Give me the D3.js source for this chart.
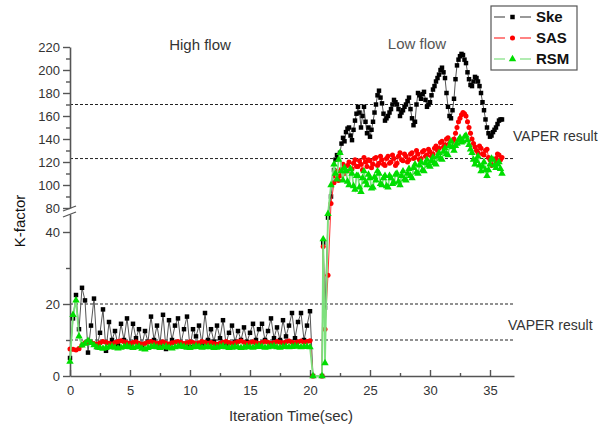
<!DOCTYPE html>
<html>
<head>
<meta charset="utf-8">
<script src="https://cdn.jsdelivr.net/npm/d3@7"></script>
<style>
  body { margin: 0; background: #fff; }
  svg { display: block; font-family: "Liberation Sans", Arial, sans-serif; }
</style>
</head>
<body>
<svg id="chart" width="603" height="427"></svg>
<script>
// iteration time (sec) of every sample
var times = [
  0, 0.25, 0.5, 0.75, 1, 1.25, 1.5, 1.75,
  2, 2.25, 2.5, 2.75, 3, 3.25, 3.5, 3.75,
  4, 4.25, 4.5, 4.75, 5, 5.25, 5.5, 5.75,
  6, 6.25, 6.5, 6.75, 7, 7.25, 7.5, 7.75,
  8, 8.25, 8.5, 8.75, 9, 9.25, 9.5, 9.75,
  10, 10.25, 10.5, 10.75, 11, 11.25, 11.5, 11.75,
  12, 12.25, 12.5, 12.75, 13, 13.25, 13.5, 13.75,
  14, 14.25, 14.5, 14.75, 15, 15.25, 15.5, 15.75,
  16, 16.25, 16.5, 16.75, 17, 17.25, 17.5, 17.75,
  18, 18.25, 18.5, 18.75, 19, 19.25, 19.5, 19.75,
  20,
  20.25, 21, 21.1, 21.25, 21.5, 21.75,
  22, 22.125, 22.25, 22.375, 22.5, 22.625, 22.75, 22.875,
  23, 23.125, 23.25, 23.375, 23.5, 23.625, 23.75, 23.875,
  24, 24.125, 24.25, 24.375, 24.5, 24.625, 24.75, 24.875,
  25, 25.125, 25.25, 25.375, 25.5, 25.625, 25.75, 25.875,
  26, 26.125, 26.25, 26.375, 26.5, 26.625, 26.75, 26.875,
  27, 27.125, 27.25, 27.375, 27.5, 27.625, 27.75, 27.875,
  28, 28.125, 28.25, 28.375, 28.5, 28.625, 28.75, 28.875,
  29, 29.125, 29.25, 29.375, 29.5, 29.625, 29.75, 29.875,
  30, 30.125, 30.25, 30.375, 30.5, 30.625, 30.75, 30.875,
  31, 31.125, 31.25, 31.375, 31.5, 31.625, 31.75, 31.875,
  32, 32.125, 32.25, 32.375, 32.5, 32.625, 32.75, 32.875,
  33, 33.125, 33.25, 33.375, 33.5, 33.625, 33.75, 33.875,
  34, 34.125, 34.25, 34.375, 34.5, 34.625, 34.75, 34.875,
  35, 35.125, 35.25, 35.375, 35.5, 35.625, 35.75, 35.875,
  36
];

var ske = [
  5, 16, 22.5, 13, 24.5, 21, 6.5, 14,
  21.5, 8, 12, 18.5, 7, 15, 10, 12.5,
  8.5, 14.5, 10, 16, 9, 14.5, 10.5, 13,
  8.5, 12.5, 9.5, 16.5, 10, 14, 9, 17,
  7.5, 15.5, 10, 14, 16, 9, 13, 16.5,
  8, 13, 11, 14, 9, 17.5, 10, 13,
  9.5, 14, 10.5, 15.5, 9, 12, 14, 9.5,
  12.5, 10, 13.5, 9.5, 12, 14.5, 10, 13,
  14.5, 10, 12.5, 16, 10.5, 13.5, 10, 15.5,
  11, 14, 17.5, 10.5, 15, 17.5, 10, 14,
  18,
  0, 0, 37, 19, 44, 90,
  113, 122, 126, 124, 128, 136, 141, 138,
  146, 149, 150, 143, 139, 148, 156, 162,
  168, 163, 150, 160, 168, 155, 145, 150,
  142, 148, 155, 163, 170, 178, 182, 176,
  171, 162, 156, 158, 160, 163, 166, 170,
  174, 172, 170, 166, 160, 163, 165, 168,
  170, 173, 176, 166, 158, 152, 155, 170,
  180, 178, 175, 179, 181, 174, 168, 170,
  172, 178, 183, 186, 190, 193, 196, 200,
  202, 198, 193, 180, 168, 160, 158, 165,
  175, 192, 204, 209, 212, 214, 213, 209,
  206, 198, 192, 187, 186, 190, 194, 193,
  190, 186, 180, 172, 165, 157, 150, 145,
  142, 143, 146, 148, 150, 153, 156, 157,
  157
];

var sas = [
  7.5, 7.4, 7.2, 7.6, 8.6, 9.2, 9.5, 9.3,
  9.0, 8.8, 9.2, 9.6, 9.4, 9.1, 8.9, 9.3,
  9.6, 9.8, 9.5, 9.2, 9.0, 9.3, 9.5, 9.1,
  8.8, 9.0, 9.4, 9.6, 9.3, 9.0, 9.2, 9.5,
  9.1, 8.9, 9.2, 9.4, 9.6, 9.3, 9.0, 9.2,
  9.5, 9.3, 9.0, 9.2, 9.6, 9.4, 9.1, 9.3,
  9.0, 8.8, 9.1, 9.4, 9.6, 9.3, 9.0, 9.2,
  9.5, 9.7, 9.4, 9.1, 9.3, 9.5, 9.2, 9.0,
  9.3, 9.6, 9.4, 9.1, 9.3, 9.6, 9.4, 9.2,
  9.5, 9.7, 9.4, 9.2, 9.5, 9.7, 9.4, 9.6,
  9.8,
  0, 0, 36, 13, 28, 84,
  102, 108, 112, 104, 108, 114, 118, 110,
  112, 117, 120, 112, 114, 119, 122, 116,
  116, 121, 118, 113, 124, 120, 116, 122,
  121, 115, 118, 123, 124, 117, 119, 125,
  122, 118, 117, 123, 125, 119, 120, 126,
  123, 117, 119, 125, 128, 122, 121, 127,
  125, 120, 122, 127, 128, 123, 124, 130,
  127, 122, 123, 129, 130, 125, 126, 131,
  129, 125, 127, 132, 134, 130, 132, 137,
  138, 133, 135, 140, 141, 136, 136, 138,
  140, 145, 150, 155, 158, 161, 163, 162,
  160, 155, 150, 145, 140, 136, 133, 130,
  128, 134, 132, 127, 126, 130, 131, 124,
  122, 117, 118, 121, 123, 127, 126, 122,
  124
];

var rsm = [
  4, 17, 21, 11, 8.5, 9, 9.8, 9.2,
  8.6, 8.0, 7.8, 7.6, 7.8, 8.0, 8.2, 7.9,
  7.7, 7.9, 8.1, 8.3, 8.0, 7.8, 8.0, 8.2,
  7.6, 7.4, 7.8, 8.1, 8.3, 8.0, 7.8, 8.0,
  8.2, 7.9, 7.7, 8.0, 8.2, 8.4, 8.1, 7.9,
  7.8, 8.0, 8.3, 8.1, 7.9, 8.0, 8.2, 8.0,
  7.8, 7.9, 8.1, 8.3, 8.0, 7.8, 7.9, 8.1,
  8.0, 7.8, 7.9, 8.2, 8.0, 7.9, 8.1, 8.3,
  8.1, 7.9, 8.0, 8.2, 8.3, 8.0, 7.9, 8.1,
  8.2, 8.0, 8.1, 8.3, 8.2, 8.0, 8.1, 8.2,
  8.0,
  0, 0, 38, 3.6, 46, 100,
  118, 110, 105, 122, 128, 112, 104, 115,
  112, 103, 100, 114, 110, 99, 96, 108,
  108, 98, 94, 106, 112, 103, 100, 109,
  106, 97, 98, 107, 104, 112, 110, 101,
  100, 106, 108, 99, 98, 108, 106, 101,
  102, 109, 110, 103, 100, 108, 112, 105,
  104, 110, 114, 108, 106, 115, 118, 111,
  110, 117, 120, 113, 112, 119, 122, 117,
  116, 121, 124, 119, 118, 125, 128, 123,
  122, 129, 132, 127, 126, 134, 138, 133,
  130, 134, 136, 139, 141, 137, 138, 142,
  143, 139, 135, 131, 128, 122, 118, 121,
  125, 117, 112, 116, 120, 113, 108, 113,
  118, 123, 122, 117, 115, 118, 120, 114,
  110
];

var seriesNames = ["Ske", "SAS", "RSM"];
var xTicks = [0, 5, 10, 15, 20, 25, 30, 35];
var upperTicks = [80, 100, 120, 140, 160, 180, 200, 220];
var lowerTicks = [0, 20, 40];
var vaperLines = [10, 20, 123, 170];

var svg = d3.select("#chart");

// x: 0..37 sec
var x = d3.scaleLinear().domain([0, 37]).range([70, 514]);
// broken y axis: lower part 0..45, upper part 80..220
var yLow = d3.scaleLinear().domain([0, 45]).range([376, 214]);
var yUp = d3.scaleLinear().domain([80, 220]).range([208, 47]);
var y = d3.scaleLinear().domain([0, 45, 80, 220]).range([376, 214, 208, 47]);

var styles = {
  Ske: { line: "#555", lw: 1, fill: "#000", symbol: d3.symbolSquare, size: 20 },
  SAS: { line: "#ff3030", lw: 1, fill: "#ff0000", symbol: d3.symbolCircle, size: 20 },
  RSM: { line: "#7de07d", lw: 1.8, fill: "#00dd00", symbol: d3.symbolTriangle, size: 24 }
};
var values = { Ske: ske, SAS: sas, RSM: rsm };

// dashed VAPER reference lines
svg.append("g").selectAll("line")
  .data(vaperLines)
  .enter().append("line")
    .attr("x1", x(0)).attr("x2", x(37))
    .attr("y1", function(d){ return y(d); })
    .attr("y2", function(d){ return y(d); })
    .attr("stroke", "#222")
    .attr("stroke-width", 1)
    .attr("stroke-dasharray", "3,2");

// axes
function styleAxis(g) {
  g.select(".domain").attr("stroke", "#555").attr("stroke-width", 1.6);
  g.selectAll(".tick line").attr("stroke", "#555").attr("stroke-width", 1.4);
  g.selectAll(".tick text").attr("fill", "#333").style("font-size", "13px");
}

svg.append("g")
    .attr("transform", "translate(0," + y(0) + ")")
    .call(d3.axisBottom(x).tickValues(xTicks).tickSize(-6).tickSizeOuter(0).tickPadding(10))
    .call(styleAxis);
svg.append("g")
    .attr("transform", "translate(0," + y(0) + ")")
    .call(d3.axisBottom(x).tickValues([2.5, 7.5, 12.5, 17.5, 22.5, 27.5, 32.5]).tickSize(-3).tickFormat(""))
    .call(styleAxis)
    .select(".domain").remove();

svg.append("g")
    .attr("transform", "translate(" + x(0) + ",0)")
    .call(d3.axisLeft(yUp).tickValues(upperTicks).tickSize(7).tickSizeOuter(0).tickPadding(3))
    .call(styleAxis);
svg.append("g")
    .attr("transform", "translate(" + x(0) + ",0)")
    .call(d3.axisLeft(yUp).tickValues([90, 110, 130, 150, 170, 190, 210]).tickSize(4).tickFormat(""))
    .call(styleAxis)
    .select(".domain").remove();
svg.append("g")
    .attr("transform", "translate(" + x(0) + ",0)")
    .call(d3.axisLeft(yLow).tickValues(lowerTicks).tickSize(7).tickSizeOuter(0).tickPadding(3))
    .call(styleAxis);
svg.append("g")
    .attr("transform", "translate(" + x(0) + ",0)")
    .call(d3.axisLeft(yLow).tickValues([10, 30]).tickSize(4).tickFormat(""))
    .call(styleAxis)
    .select(".domain").remove();

// axis break marks
[y(80), y(45)].forEach(function(py){
  svg.append("line")
    .attr("x1", x(0) - 7).attr("y1", py + 3)
    .attr("x2", x(0) + 6).attr("y2", py - 2)
    .attr("stroke", "#555").attr("stroke-width", 1.3);
});

// series lines + markers
seriesNames.forEach(function(name){
  var st = styles[name];
  var pts = times.map(function(t, i){ return [t, values[name][i]]; });
  var line = d3.line()
    .x(function(d){ return x(d[0]); })
    .y(function(d){ return y(d[1]); });
  svg.append("path")
    .datum(pts)
    .attr("d", line)
    .attr("fill", "none")
    .attr("stroke", st.line)
    .attr("stroke-width", st.lw);
  svg.append("g").selectAll("path")
    .data(pts)
    .enter().append("path")
      .attr("transform", function(d){ return "translate(" + x(d[0]) + "," + y(d[1]) + ")"; })
      .attr("d", d3.symbol().type(st.symbol).size(st.size))
      .attr("fill", st.fill);
});

// texts
svg.append("text").attr("x", 200).attr("y", 50).attr("text-anchor", "middle")
  .attr("fill", "#333").style("font-size", "15px").text("High flow");
svg.append("text").attr("x", 417).attr("y", 49).attr("text-anchor", "middle")
  .attr("fill", "#555").style("font-size", "15px").text("Low flow");
svg.append("text").attr("x", 513).attr("y", y(138)).attr("fill", "#333")
  .style("font-size", "14px").text("VAPER result");
svg.append("text").attr("x", 508).attr("y", y(12.8)).attr("fill", "#333")
  .style("font-size", "14px").text("VAPER result");
svg.append("text")
  .attr("transform", "translate(25,221) rotate(-90)")
  .attr("text-anchor", "middle").attr("fill", "#111")
  .style("font-size", "15px").text("K-factor");
svg.append("text").attr("x", 291).attr("y", 421).attr("text-anchor", "middle")
  .attr("fill", "#333").style("font-size", "15px").text("Iteration Time(sec)");

// legend
var legend = svg.append("g");
legend.append("rect")
  .attr("x", 491).attr("y", 6).attr("width", 86).attr("height", 64)
  .attr("fill", "#fff").attr("stroke", "#555").attr("stroke-width", 1.2);
seriesNames.forEach(function(name, i){
  var st = styles[name];
  var ly = 17 + i * 21;
  legend.append("line").attr("x1", 494).attr("x2", 505).attr("y1", ly).attr("y2", ly)
    .attr("stroke", st.line).attr("stroke-width", 1.2);
  legend.append("line").attr("x1", 520).attr("x2", 531).attr("y1", ly).attr("y2", ly)
    .attr("stroke", st.line).attr("stroke-width", 1.2);
  legend.append("path")
    .attr("transform", "translate(512.5," + ly + ")")
    .attr("d", d3.symbol().type(st.symbol).size(st.size))
    .attr("fill", st.fill);
  legend.append("text").attr("x", 536).attr("y", ly + 5)
    .attr("fill", "#111").style("font-size", "15px").style("font-weight", "bold")
    .text(name);
});
</script>
</body>
</html>
